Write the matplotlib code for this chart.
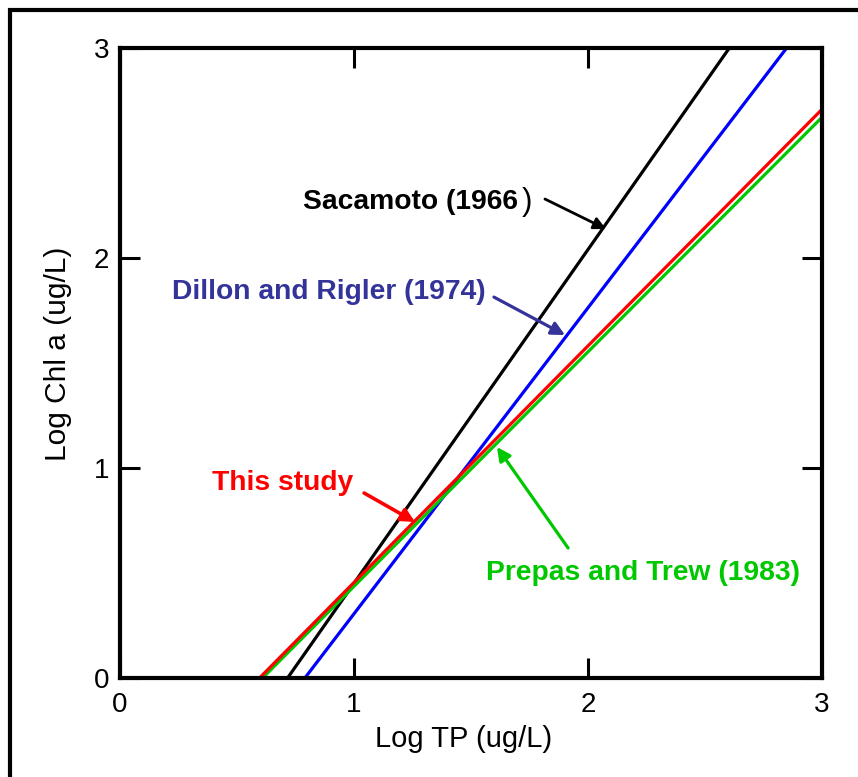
import matplotlib
matplotlib.use("Agg")
import matplotlib.pyplot as plt
from matplotlib.patches import Rectangle

plt.rcParams['font.family'] = ['Liberation Sans', 'DejaVu Sans']

# Regression lines (log TP vs log Chl a), given by their end points
sacamoto_x = [0.716, 2.604]
sacamoto_y = [0.0, 3.0]
dillon_x = [0.790, 2.849]
dillon_y = [0.0, 3.0]
prepas_x = [0.609, 3.0]
prepas_y = [0.0, 2.670]
study_x = [0.596, 3.0]
study_y = [0.0, 2.708]

ticks = [0, 1, 2, 3]
tick_labels = ['0', '1', '2', '3']

GREEN = '#00C800'
NAVY = '#333399'

fig = plt.figure(figsize=(8.58, 7.77), dpi=100)
ax = fig.add_axes([0.1399, 0.1274, 0.9580 - 0.1399, 0.9382 - 0.1274])

lw = 2.3
ax.plot(sacamoto_x, sacamoto_y, color='black', lw=lw, solid_capstyle='butt')
ax.plot(dillon_x, dillon_y, color='#0000FF', lw=lw, solid_capstyle='butt')
ax.plot(prepas_x, prepas_y, color=GREEN, lw=lw, solid_capstyle='butt')
ax.plot(study_x, study_y, color='#FF0000', lw=lw, solid_capstyle='butt')

ax.set_xlim(0, 3)
ax.set_ylim(0, 3)
ax.set_xticks(ticks)
ax.set_yticks(ticks)
ax.set_xticklabels(tick_labels)
ax.set_yticklabels(tick_labels)
ax.tick_params(direction='in', length=14.5, width=2.2, top=True, right=True,
               labelsize=20)
ax.tick_params(axis='x', pad=10)
ax.tick_params(axis='y', pad=8)
for s in ax.spines.values():
    s.set_linewidth(3)

ax.set_xlabel('Log TP (ug/L)', fontsize=21)
ax.xaxis.set_label_coords(0.489, -0.075)
ax.set_ylabel('Log Chl a (ug/L)', fontsize=21.5)
ax.yaxis.set_label_coords(-0.068, 0.515)

# Labels with arrows pointing at each line
ANN = 20.3
ax.text(1.701, 2.267, 'Sacamoto (1966', ha='right', va='center',
        fontsize=ANN, fontweight='bold', color='black')
ax.text(1.739, 2.267, ')', ha='center', va='center', fontsize=22.5,
        color='black')
ax.annotate('', xy=(2.077, 2.138), xytext=(1.816, 2.281),
            arrowprops=dict(arrowstyle='-|>', color='black', lw=2,
                            mutation_scale=18, shrinkA=0, shrinkB=0))

ax.text(0.893, 1.838, 'Dillon and Rigler (1974)', ha='center', va='center',
        fontsize=ANN, fontweight='bold', color=NAVY)
ax.annotate('', xy=(1.902, 1.633), xytext=(1.598, 1.814),
            arrowprops=dict(arrowstyle='-|>', color=NAVY, lw=2.3,
                            mutation_scale=20, shrinkA=0, shrinkB=0))

ax.text(0.694, 0.929, 'This study', ha='center', va='center',
        fontsize=ANN, fontweight='bold', color='#FF0000')
ax.annotate('', xy=(1.261, 0.743), xytext=(1.043, 0.881),
            arrowprops=dict(arrowstyle='-|>', color='#FF0000', lw=2.6,
                            mutation_scale=20, shrinkA=0, shrinkB=0))

ax.text(2.237, 0.500, 'Prepas and Trew (1983)', ha='center', va='center',
        fontsize=ANN, fontweight='bold', color=GREEN)
ax.annotate('', xy=(1.611, 1.100), xytext=(1.915, 0.619),
            arrowprops=dict(arrowstyle='-|>', color=GREEN, lw=2.3,
                            mutation_scale=20, shrinkA=0, shrinkB=0))

# Outer frame around the figure
fig.patches.append(Rectangle((0.0115, -0.2), 1.5, 1.1865, transform=fig.transFigure,
                             fill=False, edgecolor='black', lw=3, clip_on=False))

fig.savefig('out.png', dpi=100)
